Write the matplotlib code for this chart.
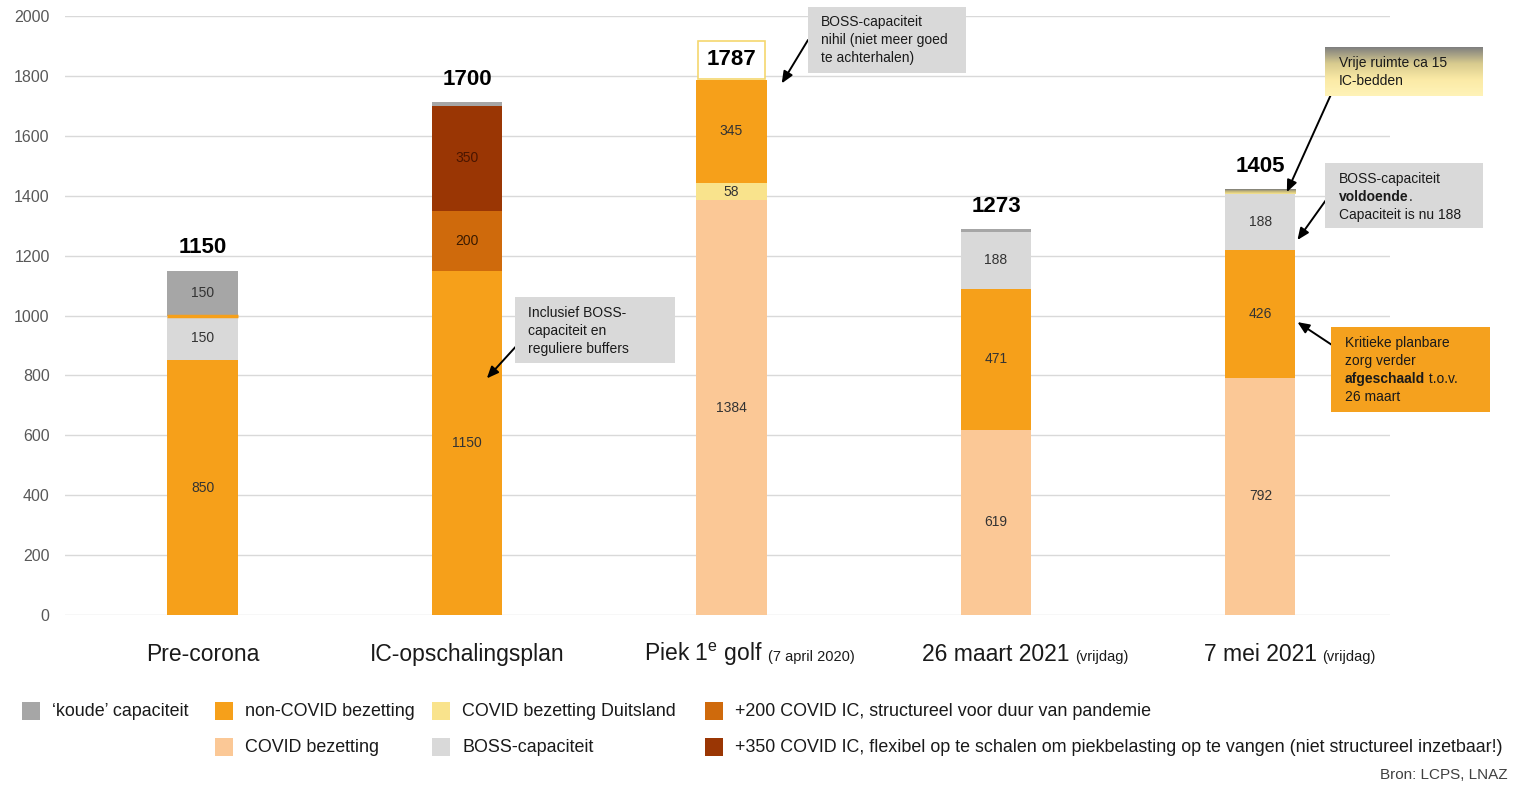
import matplotlib
matplotlib.use("Agg")
import matplotlib.pyplot as plt
import numpy as np
from matplotlib.patches import Rectangle
from matplotlib.colors import LinearSegmentedColormap

plt.rcParams["font.family"] = ["Liberation Sans", "DejaVu Sans"]
plt.rcParams["mathtext.fontset"] = "custom"
plt.rcParams["mathtext.rm"] = "Liberation Sans"
plt.rcParams["mathtext.bf"] = "Liberation Sans:bold"

# --- data -------------------------------------------------------------------
categories = ["Pre-corona", "IC-opschalingsplan", "Piek 1$^{\\mathrm{e}}$ golf",
              "26 maart 2021", "7 mei 2021"]
subnotes = ["", "", "(7 april 2020)", "(vrijdag)", "(vrijdag)"]
totals = [1150, 1700, 1787, 1273, 1405]

covid = [0, 0, 1384, 619, 792]
covid_de = [0, 0, 58, 0, 0]
non_covid = [850, 1150, 345, 471, 426]
extra_200 = [0, 200, 0, 0, 0]
extra_350 = [0, 350, 0, 0, 0]
boss = [150, 0, 0, 188, 188]
koude = [150, 12, 0, 10, 0]
vrij = [0, 0, 0, 0, 15]

C_KOUDE = "#a6a6a6"
C_NONCOVID = "#f6a01a"
C_DE = "#f9e38c"
C_200 = "#cf6a0c"
C_COVID = "#fbc896"
C_BOSS = "#d9d9d9"
C_350 = "#9a3604"

legend_names = ["\u2018koude\u2019 capaciteit", "non-COVID bezetting",
                "COVID bezetting Duitsland",
                "+200 COVID IC, structureel voor duur van pandemie",
                "COVID bezetting", "BOSS-capaciteit",
                "+350 COVID IC, flexibel op te schalen om piekbelasting op te vangen (niet structureel inzetbaar!)"]
legend_colors = [C_KOUDE, C_NONCOVID, C_DE, C_200, C_COVID, C_BOSS, C_350]
legend_slots = [(0, 0), (0, 1), (0, 2), (0, 3), (1, 1), (1, 2), (1, 3)]

# --- figure -----------------------------------------------------------------
W, H = 1522, 785
fig = plt.figure(figsize=(W / 100, H / 100), dpi=100)
fig.patch.set_facecolor("white")
renderer = fig.canvas.get_renderer()


def px(x, y):
    return x / W, 1 - y / H


ax = fig.add_axes([65 / W, 1 - 615 / H, (1390 - 65) / W, (615 - 16) / H])
x = np.arange(len(categories))
bw = 0.265

stack = [
    (covid, C_COVID, "#333333"),
    (covid_de, C_DE, "#333333"),
    (non_covid, C_NONCOVID, "#333333"),
    (extra_200, C_200, "#3a1a00"),
    (extra_350, C_350, "#4a1500"),
    (boss, C_BOSS, "#333333"),
    (koude, C_KOUDE, "#333333"),
]
bottom = np.zeros(len(categories))
for vals, col, lc in stack:
    vals = np.array(vals, dtype=float)
    ax.bar(x, vals, bw, bottom=bottom, color=col, zorder=2)
    for i, v in enumerate(vals):
        if v >= 50:
            ax.text(x[i], bottom[i] + v / 2, f"{int(v)}", ha="center", va="center",
                    fontsize=10, color=lc, zorder=4)
    bottom += vals

# thin orange edge between BOSS and koude on pre-corona bar
edge_y = np.array(non_covid) + np.array(boss)
ax.hlines(edge_y[0], x[0] - bw / 2, x[0] + bw / 2, color=C_NONCOVID, lw=2.5, zorder=3)

# vrije ruimte cap as gradient
grad_cmap = LinearSegmentedColormap.from_list("vrij", ["#7a7a7a", "#c9bb7a", "#f7e490"])
for i, v in enumerate(vrij):
    if v > 0:
        ax.imshow(np.linspace(0, 1, 50).reshape(-1, 1), cmap=grad_cmap, aspect="auto",
                  extent=(x[i] - bw / 2, x[i] + bw / 2, bottom[i], bottom[i] + v), zorder=3)
bottom += np.array(vrij)

# totals
for i, t in enumerate(totals):
    if i == 2:
        ax.annotate(f"{t}", (x[i], bottom[i]), xytext=(0, 7), textcoords="offset points",
                    ha="center", va="bottom", fontsize=16, fontweight="bold",
                    bbox=dict(boxstyle="square,pad=0.38", fc="white", ec="#f5d76e", lw=1.2),
                    zorder=5)
    else:
        ax.annotate(f"{t}", (x[i], bottom[i]), xytext=(0, 9), textcoords="offset points",
                    ha="center", va="bottom", fontsize=16, fontweight="bold", zorder=5)

ax.set_xlim(-0.52, 4.49)
ax.set_ylim(0, 2000)
ax.set_yticks(range(0, 2001, 200))
ax.set_xticks([])
ax.grid(axis="y", color="#d9d9d9", lw=1, zorder=0)
ax.tick_params(axis="y", length=0, pad=11, labelsize=11.5, labelcolor="#595959")
for s in ax.spines.values():
    s.set_visible(False)

# category labels
for i, (cat, sub) in enumerate(zip(categories, subnotes)):
    xd = ax.transData.transform((x[i], 0))[0]
    shift = -28 if i == 2 else 0
    t = fig.text((xd + shift) / W, 1 - 661 / H, cat, ha="center", va="baseline",
                 fontsize=16.5, color="#1a1a1a")
    if sub:
        bb = t.get_window_extent(renderer)
        fig.text((bb.x1 + 5) / W, 1 - 661 / H, sub, ha="left", va="baseline",
                 fontsize=10.5, color="#1a1a1a")


# --- annotation boxes -------------------------------------------------------
def rich(xp, yp, parts, size=10, color="#1a1a1a"):
    for txt, weight in parts:
        t = fig.text(*px(xp, yp), txt, fontsize=size, fontweight=weight, color=color,
                     ha="left", va="baseline", zorder=6)
        xp += t.get_window_extent(renderer).width


def box(x0, y0, x1, y1, fc):
    fig.add_artist(Rectangle(px(x0, y1), (x1 - x0) / W, (y1 - y0) / H,
                             transform=fig.transFigure, fc=fc, ec="none", zorder=2))


def arrow(tip, start):
    ax.annotate("", xy=tip, xycoords="data", xytext=px(*start),
                textcoords="figure fraction", annotation_clip=False,
                arrowprops=dict(arrowstyle="-|>,head_length=0.7,head_width=0.3",
                                color="black", lw=1.4, shrinkA=0, shrinkB=0))


box(515, 297, 675, 363, "#d9d9d9")
for k, line in enumerate(["Inclusief BOSS-", "capaciteit en", "reguliere buffers"]):
    rich(528, 317 + 18 * k, [(line, "normal")])
arrow((1.075, 790), (520, 342))

box(808, 7, 966, 73, "#d9d9d9")
for k, line in enumerate(["BOSS-capaciteit", "nihil (niet meer goed", "te achterhalen)"]):
    rich(821, 26 + 18 * k, [(line, "normal")])
arrow((2.19, 1775), (808, 40))

gax = fig.add_axes([1325 / W, 1 - 96 / H, (1483 - 1325) / W, (96 - 47) / H])
gax.imshow(np.linspace(0, 1, 100).reshape(-1, 1), aspect="auto", extent=(0, 1, 0, 1),
           cmap=LinearSegmentedColormap.from_list("b", ["#7f7f7f", "#d8cb8e", "#fbeaa6", "#fff3b8"]))
gax.axis("off")
for k, line in enumerate(["Vrije ruimte ca 15", "IC-bedden"]):
    rich(1339, 67 + 18 * k, [(line, "normal")])
arrow((4.10, 1412), (1333, 90))

box(1325, 163, 1483, 228, "#d9d9d9")
rich(1339, 183, [("BOSS-capaciteit", "normal")])
rich(1339, 201, [("voldoende", "bold"), (".", "normal")])
rich(1339, 219, [("Capaciteit is nu 188", "normal")])
arrow((4.14, 1252), (1326, 200))

box(1331, 327, 1490, 412, "#f5a11e")
rich(1345, 347, [("Kritieke planbare", "normal")])
rich(1345, 365, [("zorg verder", "normal")])
rich(1345, 383, [("afgeschaald", "bold"), (" t.o.v.", "normal")])
rich(1345, 401, [("26 maart", "normal")])
arrow((4.14, 978), (1332, 345))

# --- legend -----------------------------------------------------------------
col_x = [22, 215, 432, 705]
row_y = [711, 747]
for name, col, (r, c) in zip(legend_names, legend_colors, legend_slots):
    box(col_x[c], row_y[r] - 9, col_x[c] + 18, row_y[r] + 9, col)
    fig.text(*px(col_x[c] + 30, row_y[r] + 5), name, fontsize=12.9, color="#1a1a1a",
             ha="left", va="baseline")

fig.text(*px(1508, 779), "Bron: LCPS, LNAZ", fontsize=11, color="#404040",
         ha="right", va="baseline")

fig.savefig("out.png", dpi=100, facecolor="white")
